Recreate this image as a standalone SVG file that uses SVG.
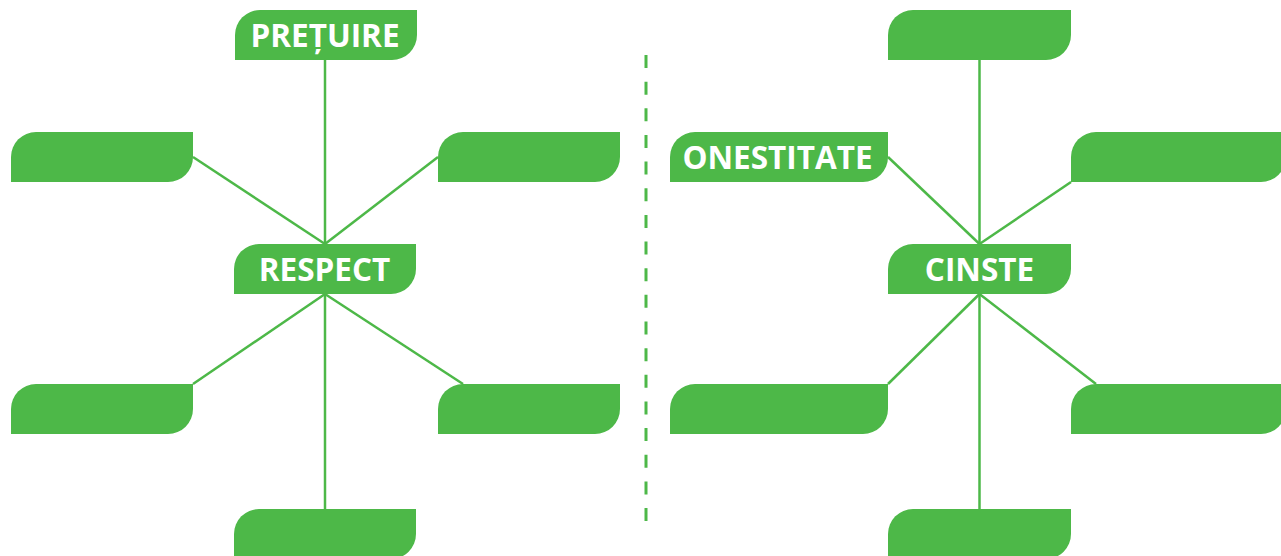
<svg xmlns="http://www.w3.org/2000/svg" width="1281" height="556" viewBox="0 0 1281 556">
<style>
.node{fill:#4db848}
.lbl{fill:#ffffff;font-family:"Open Sans","Noto Sans","Liberation Sans",sans-serif;font-weight:bold;font-size:31.5px;text-anchor:middle}
.con line{stroke:#4db848;stroke-width:2.5;fill:none}
.sep{stroke:#4db848;stroke-width:3;stroke-dasharray:13 13.65;fill:none}
</style>
<rect width="1281" height="556" fill="#ffffff"/>
<g id="connectors" class="con">
<line x1="325" y1="60" x2="325" y2="244"/>
<line x1="193" y1="157" x2="325" y2="244"/>
<line x1="438" y1="157" x2="325" y2="244"/>
<line x1="325" y1="294" x2="193" y2="384"/>
<line x1="325" y1="294" x2="463" y2="384"/>
<line x1="325" y1="294" x2="325" y2="509"/>
<line x1="979.5" y1="60" x2="979.5" y2="244"/>
<line x1="888" y1="157" x2="979.5" y2="244"/>
<line x1="1071" y1="182" x2="979.5" y2="244"/>
<line x1="979.5" y1="294" x2="888" y2="384"/>
<line x1="979.5" y1="294" x2="1096" y2="384"/>
<line x1="979.5" y1="294" x2="979.5" y2="509"/>
</g>
<line id="separator" class="sep" x1="646" y1="55" x2="646" y2="522"/>
<g id="n-pretuire">
<path class="node" d="M235,35 A25,25 0 0 1 260,10 H417 V35 A25,25 0 0 1 392,60 H235 Z"/>
<text class="lbl" x="325" y="47">PREȚUIRE</text>
</g>
<g id="n-left-top">
<path class="node" d="M11,157 A25,25 0 0 1 36,132 H193 V157 A25,25 0 0 1 168,182 H11 Z"/>
</g>
<g id="n-right-top">
<path class="node" d="M438,157 A25,25 0 0 1 463,132 H620 V157 A25,25 0 0 1 595,182 H438 Z"/>
</g>
<g id="n-respect">
<path class="node" d="M234,269 A25,25 0 0 1 259,244 H416 V269 A25,25 0 0 1 391,294 H234 Z"/>
<text class="lbl" x="324.5" y="281">RESPECT</text>
</g>
<g id="n-left-bottom">
<path class="node" d="M11,409 A25,25 0 0 1 36,384 H193 V409 A25,25 0 0 1 168,434 H11 Z"/>
</g>
<g id="n-right-bottom">
<path class="node" d="M438,409 A25,25 0 0 1 463,384 H620 V409 A25,25 0 0 1 595,434 H438 Z"/>
</g>
<g id="n-bottom">
<path class="node" d="M234,534 A25,25 0 0 1 259,509 H416 V534 A25,25 0 0 1 391,559 H234 Z"/>
</g>
<g id="m-top">
<path class="node" d="M888,35 A25,25 0 0 1 913,10 H1071 V35 A25,25 0 0 1 1046,60 H888 Z"/>
</g>
<g id="m-onestitate">
<path class="node" d="M670,157 A25,25 0 0 1 695,132 H888 V157 A25,25 0 0 1 863,182 H670 Z"/>
<text class="lbl" x="777.5" y="169">ONESTITATE</text>
</g>
<g id="m-right-top">
<path class="node" d="M1071,157 A25,25 0 0 1 1096,132 H1286 V157 A25,25 0 0 1 1261,182 H1071 Z"/>
</g>
<g id="m-cinste">
<path class="node" d="M888,269 A25,25 0 0 1 913,244 H1071 V269 A25,25 0 0 1 1046,294 H888 Z"/>
<text class="lbl" x="979.5" y="281">CINSTE</text>
</g>
<g id="m-left-bottom">
<path class="node" d="M670,409 A25,25 0 0 1 695,384 H888 V409 A25,25 0 0 1 863,434 H670 Z"/>
</g>
<g id="m-right-bottom">
<path class="node" d="M1071,409 A25,25 0 0 1 1096,384 H1286 V409 A25,25 0 0 1 1261,434 H1071 Z"/>
</g>
<g id="m-bottom">
<path class="node" d="M888,534 A25,25 0 0 1 913,509 H1071 V534 A25,25 0 0 1 1046,559 H888 Z"/>
</g>
</svg>
